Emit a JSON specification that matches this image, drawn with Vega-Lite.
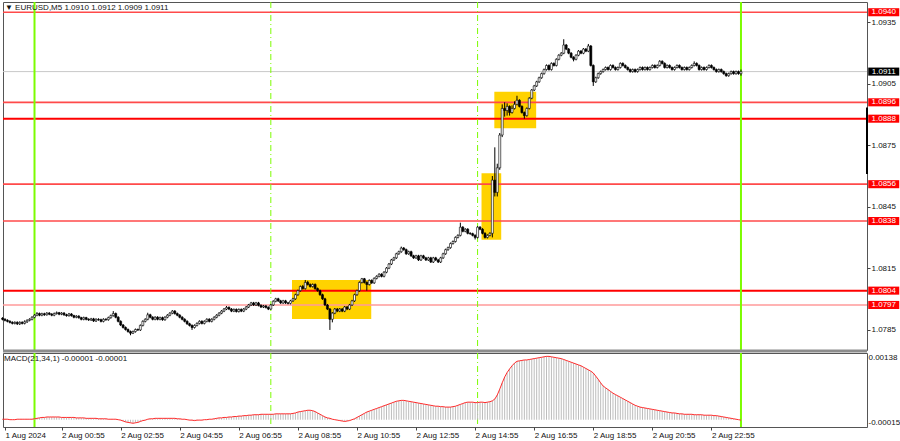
{
"$schema":"https://vega.github.io/schema/vega-lite/v6.json",
"background":"#ffffff",
"padding":{"left":0,"top":0,"right":0,"bottom":0},
"config":{"font":"Liberation Sans","view":{"stroke":"#555555","strokeWidth":1},"scale":{"continuousPadding":0}},
"spacing":3,
"bounds":"flush",
"resolve":{"scale":{"x":"independent"}},
"datasets":{
"levels":[{"p":1.094,"k":"normal"},{"p":1.0896,"k":"normal"},{"p":1.0888,"k":"strong"},{"p":1.0856,"k":"normal"},{"p":1.0838,"k":"normal"},{"p":1.0804,"k":"strong"},{"p":1.0797,"k":"light"},{"p":1.0911,"k":"cur"}],
"vlines":[{"t":0,"k":"day"},{"t":480,"k":"sess"},{"t":900,"k":"sess"},{"t":1435,"k":"day"}],
"boxes":[{"t1":523,"t2":684,"p1":1.07902,"p2":1.08092},{"t1":908,"t2":948,"p1":1.08288,"p2":1.08613},{"t1":934,"t2":1019,"p1":1.08833,"p2":1.09011}],
"bars":[
{"t":-65,"o":1.07905,"h":1.0791,"l":1.07895,"c":1.079,"m":0.00001},
{"t":-60,"o":1.079,"h":1.07905,"l":1.0789,"c":1.07895,"m":0.00001},
{"t":-55,"o":1.07895,"h":1.079,"l":1.07885,"c":1.0789,"m":0.00001},
{"t":-50,"o":1.0789,"h":1.07895,"l":1.0788,"c":1.07885,"m":0},
{"t":-45,"o":1.07885,"h":1.0789,"l":1.07875,"c":1.0788,"m":0},
{"t":-40,"o":1.0788,"h":1.0789,"l":1.07875,"c":1.07885,"m":0},
{"t":-35,"o":1.07885,"h":1.0789,"l":1.07872,"c":1.07878,"m":0.00001},
{"t":-30,"o":1.07878,"h":1.0789,"l":1.07872,"c":1.07885,"m":0.00001},
{"t":-25,"o":1.07885,"h":1.0789,"l":1.07875,"c":1.0788,"m":0.00001},
{"t":-20,"o":1.0788,"h":1.07895,"l":1.07875,"c":1.07888,"m":0.00001},
{"t":-15,"o":1.07888,"h":1.079,"l":1.07882,"c":1.07895,"m":0.00001},
{"t":-10,"o":1.07895,"h":1.07905,"l":1.0789,"c":1.079,"m":0.00001},
{"t":-5,"o":1.079,"h":1.07915,"l":1.07895,"c":1.0791,"m":0.00001},
{"t":0,"o":1.0791,"h":1.07925,"l":1.07905,"c":1.0792,"m":0.00002},
{"t":5,"o":1.0792,"h":1.07935,"l":1.07915,"c":1.07928,"m":0.00003},
{"t":10,"o":1.07928,"h":1.07933,"l":1.07915,"c":1.0792,"m":0.00004},
{"t":15,"o":1.0792,"h":1.07932,"l":1.07915,"c":1.07927,"m":0.00005},
{"t":20,"o":1.07927,"h":1.07932,"l":1.07917,"c":1.07922,"m":0.00005},
{"t":25,"o":1.07922,"h":1.07935,"l":1.07918,"c":1.0793,"m":0.00006},
{"t":30,"o":1.0793,"h":1.07935,"l":1.0792,"c":1.07925,"m":0.00006},
{"t":35,"o":1.07925,"h":1.0793,"l":1.07915,"c":1.0792,"m":0.00006},
{"t":40,"o":1.0792,"h":1.07933,"l":1.07915,"c":1.07928,"m":0.00006},
{"t":45,"o":1.07928,"h":1.07938,"l":1.07923,"c":1.07932,"m":0.00006},
{"t":50,"o":1.07932,"h":1.07936,"l":1.0792,"c":1.07925,"m":0.00006},
{"t":55,"o":1.07925,"h":1.07935,"l":1.0792,"c":1.0793,"m":0.00005},
{"t":60,"o":1.0793,"h":1.07935,"l":1.07917,"c":1.07922,"m":0.00005},
{"t":65,"o":1.07922,"h":1.07927,"l":1.07913,"c":1.07918,"m":0.00005},
{"t":70,"o":1.07918,"h":1.07931,"l":1.07913,"c":1.07926,"m":0.00005},
{"t":75,"o":1.07926,"h":1.0793,"l":1.07913,"c":1.07918,"m":0.00005},
{"t":80,"o":1.07918,"h":1.07922,"l":1.07905,"c":1.0791,"m":0.00005},
{"t":85,"o":1.0791,"h":1.0792,"l":1.07905,"c":1.07915,"m":0.00004},
{"t":90,"o":1.07915,"h":1.0792,"l":1.07903,"c":1.07908,"m":0.00004},
{"t":95,"o":1.07908,"h":1.07912,"l":1.07895,"c":1.079,"m":0.00004},
{"t":100,"o":1.079,"h":1.07913,"l":1.07895,"c":1.07908,"m":0.00004},
{"t":105,"o":1.07908,"h":1.07912,"l":1.07895,"c":1.079,"m":0.00003},
{"t":110,"o":1.079,"h":1.07905,"l":1.07892,"c":1.07897,"m":0.00003},
{"t":115,"o":1.07897,"h":1.07907,"l":1.07892,"c":1.07902,"m":0.00003},
{"t":120,"o":1.07902,"h":1.07907,"l":1.07887,"c":1.07892,"m":0.00003},
{"t":125,"o":1.07892,"h":1.07905,"l":1.07887,"c":1.079,"m":0.00003},
{"t":130,"o":1.079,"h":1.07905,"l":1.07893,"c":1.07898,"m":0.00002},
{"t":135,"o":1.07898,"h":1.07903,"l":1.07885,"c":1.0789,"m":0.00002},
{"t":140,"o":1.0789,"h":1.07905,"l":1.07885,"c":1.079,"m":0.00002},
{"t":145,"o":1.079,"h":1.07905,"l":1.07893,"c":1.07898,"m":0.00002},
{"t":150,"o":1.07898,"h":1.07913,"l":1.07893,"c":1.07908,"m":0.00001},
{"t":155,"o":1.07908,"h":1.07923,"l":1.07903,"c":1.07918,"m":0.00001},
{"t":160,"o":1.07918,"h":1.0794,"l":1.07913,"c":1.07928,"m":0.00001},
{"t":165,"o":1.07928,"h":1.07933,"l":1.07905,"c":1.0791,"m":0.00001},
{"t":170,"o":1.0791,"h":1.07915,"l":1.07885,"c":1.0789,"m":0},
{"t":175,"o":1.0789,"h":1.07895,"l":1.07867,"c":1.07872,"m":-0.00001},
{"t":180,"o":1.07872,"h":1.07877,"l":1.07855,"c":1.0786,"m":-0.00003},
{"t":185,"o":1.0786,"h":1.07865,"l":1.07845,"c":1.0785,"m":-0.00005},
{"t":190,"o":1.0785,"h":1.07855,"l":1.07835,"c":1.0784,"m":-0.00006},
{"t":195,"o":1.0784,"h":1.07845,"l":1.07822,"c":1.07832,"m":-0.00007},
{"t":200,"o":1.07832,"h":1.07845,"l":1.07828,"c":1.0784,"m":-0.00008},
{"t":205,"o":1.0784,"h":1.07855,"l":1.07835,"c":1.0785,"m":-0.00007},
{"t":210,"o":1.0785,"h":1.07855,"l":1.07843,"c":1.07848,"m":-0.00006},
{"t":215,"o":1.07848,"h":1.07875,"l":1.07843,"c":1.0787,"m":-0.00004},
{"t":220,"o":1.0787,"h":1.07895,"l":1.07865,"c":1.0789,"m":-0.00002},
{"t":225,"o":1.0789,"h":1.07905,"l":1.07885,"c":1.079,"m":-0.00001},
{"t":230,"o":1.079,"h":1.07932,"l":1.07895,"c":1.07922,"m":0.00001},
{"t":235,"o":1.07922,"h":1.07927,"l":1.07905,"c":1.0791,"m":0.00002},
{"t":240,"o":1.0791,"h":1.07915,"l":1.07895,"c":1.079,"m":0.00002},
{"t":245,"o":1.079,"h":1.07915,"l":1.07895,"c":1.0791,"m":0.00003},
{"t":250,"o":1.0791,"h":1.07915,"l":1.07895,"c":1.079,"m":0.00003},
{"t":255,"o":1.079,"h":1.07913,"l":1.07895,"c":1.07908,"m":0.00003},
{"t":260,"o":1.07908,"h":1.07913,"l":1.07893,"c":1.07898,"m":0.00003},
{"t":265,"o":1.07898,"h":1.07915,"l":1.07893,"c":1.0791,"m":0.00003},
{"t":270,"o":1.0791,"h":1.07925,"l":1.07905,"c":1.0792,"m":0.00003},
{"t":275,"o":1.0792,"h":1.07935,"l":1.07915,"c":1.0793,"m":0.00003},
{"t":280,"o":1.0793,"h":1.07945,"l":1.07925,"c":1.0794,"m":0.00003},
{"t":285,"o":1.0794,"h":1.07945,"l":1.07923,"c":1.07928,"m":0.00003},
{"t":290,"o":1.07928,"h":1.07933,"l":1.07915,"c":1.0792,"m":0.00002},
{"t":295,"o":1.0792,"h":1.07925,"l":1.07905,"c":1.0791,"m":0.00002},
{"t":300,"o":1.0791,"h":1.07915,"l":1.07895,"c":1.079,"m":0.00001},
{"t":305,"o":1.079,"h":1.07905,"l":1.07885,"c":1.0789,"m":0.00001},
{"t":310,"o":1.0789,"h":1.07895,"l":1.07873,"c":1.07878,"m":0},
{"t":315,"o":1.07878,"h":1.07883,"l":1.07865,"c":1.0787,"m":-0.00001},
{"t":320,"o":1.0787,"h":1.07875,"l":1.07848,"c":1.0786,"m":-0.00001},
{"t":325,"o":1.0786,"h":1.07875,"l":1.07855,"c":1.0787,"m":-0.00002},
{"t":330,"o":1.0787,"h":1.07885,"l":1.07865,"c":1.0788,"m":-0.00001},
{"t":335,"o":1.0788,"h":1.07895,"l":1.07875,"c":1.0789,"m":-0.00001},
{"t":340,"o":1.0789,"h":1.07895,"l":1.07875,"c":1.0788,"m":-0.00001},
{"t":345,"o":1.0788,"h":1.07895,"l":1.07875,"c":1.0789,"m":0},
{"t":350,"o":1.0789,"h":1.07905,"l":1.07885,"c":1.079,"m":0},
{"t":355,"o":1.079,"h":1.07905,"l":1.07885,"c":1.0789,"m":0.00001},
{"t":360,"o":1.0789,"h":1.07905,"l":1.07885,"c":1.079,"m":0.00001},
{"t":365,"o":1.079,"h":1.07915,"l":1.07895,"c":1.0791,"m":0.00002},
{"t":370,"o":1.0791,"h":1.07925,"l":1.07905,"c":1.0792,"m":0.00003},
{"t":375,"o":1.0792,"h":1.07935,"l":1.07915,"c":1.0793,"m":0.00004},
{"t":380,"o":1.0793,"h":1.07945,"l":1.07925,"c":1.0794,"m":0.00004},
{"t":385,"o":1.0794,"h":1.07955,"l":1.07935,"c":1.0795,"m":0.00005},
{"t":390,"o":1.0795,"h":1.07965,"l":1.07945,"c":1.07958,"m":0.00005},
{"t":395,"o":1.07958,"h":1.07963,"l":1.07945,"c":1.0795,"m":0.00006},
{"t":400,"o":1.0795,"h":1.07955,"l":1.07935,"c":1.0794,"m":0.00006},
{"t":405,"o":1.0794,"h":1.07953,"l":1.07935,"c":1.07948,"m":0.00007},
{"t":410,"o":1.07948,"h":1.07953,"l":1.07933,"c":1.07938,"m":0.00007},
{"t":415,"o":1.07938,"h":1.07953,"l":1.07933,"c":1.07948,"m":0.00008},
{"t":420,"o":1.07948,"h":1.07953,"l":1.07935,"c":1.0794,"m":0.00008},
{"t":425,"o":1.0794,"h":1.07955,"l":1.07935,"c":1.0795,"m":0.00009},
{"t":430,"o":1.0795,"h":1.07965,"l":1.07945,"c":1.0796,"m":0.00009},
{"t":435,"o":1.0796,"h":1.07975,"l":1.07955,"c":1.0797,"m":0.0001},
{"t":440,"o":1.0797,"h":1.07985,"l":1.07965,"c":1.0798,"m":0.0001},
{"t":445,"o":1.0798,"h":1.07985,"l":1.07965,"c":1.0797,"m":0.00011},
{"t":450,"o":1.0797,"h":1.07985,"l":1.07965,"c":1.0798,"m":0.00011},
{"t":455,"o":1.0798,"h":1.07985,"l":1.07963,"c":1.07968,"m":0.00011},
{"t":460,"o":1.07968,"h":1.07973,"l":1.07955,"c":1.0796,"m":0.00012},
{"t":465,"o":1.0796,"h":1.0797,"l":1.07955,"c":1.07965,"m":0.00012},
{"t":470,"o":1.07965,"h":1.0797,"l":1.07953,"c":1.07958,"m":0.00012},
{"t":475,"o":1.07958,"h":1.07963,"l":1.07945,"c":1.0795,"m":0.00012},
{"t":480,"o":1.0795,"h":1.07975,"l":1.07945,"c":1.0797,"m":0.00012},
{"t":485,"o":1.0797,"h":1.07993,"l":1.07965,"c":1.07988,"m":0.00012},
{"t":490,"o":1.07988,"h":1.08005,"l":1.07983,"c":1.08,"m":0.00013},
{"t":495,"o":1.08,"h":1.08005,"l":1.07985,"c":1.0799,"m":0.00013},
{"t":500,"o":1.0799,"h":1.07995,"l":1.07975,"c":1.0798,"m":0.00013},
{"t":505,"o":1.0798,"h":1.07995,"l":1.07975,"c":1.0799,"m":0.00013},
{"t":510,"o":1.0799,"h":1.07995,"l":1.07975,"c":1.0798,"m":0.00013},
{"t":515,"o":1.0798,"h":1.07985,"l":1.07973,"c":1.07978,"m":0.00013},
{"t":520,"o":1.07978,"h":1.07995,"l":1.07973,"c":1.0799,"m":0.00013},
{"t":525,"o":1.0799,"h":1.08005,"l":1.07985,"c":1.08,"m":0.00014},
{"t":530,"o":1.08,"h":1.08025,"l":1.07995,"c":1.0802,"m":0.00015},
{"t":535,"o":1.0802,"h":1.08045,"l":1.08015,"c":1.0804,"m":0.00017},
{"t":540,"o":1.0804,"h":1.08065,"l":1.08035,"c":1.0806,"m":0.00018},
{"t":545,"o":1.0806,"h":1.08068,"l":1.08045,"c":1.0805,"m":0.00019},
{"t":550,"o":1.0805,"h":1.08092,"l":1.08045,"c":1.0808,"m":0.0002},
{"t":555,"o":1.0808,"h":1.08088,"l":1.08065,"c":1.0807,"m":0.00021},
{"t":560,"o":1.0807,"h":1.08075,"l":1.08055,"c":1.0806,"m":0.00021},
{"t":565,"o":1.0806,"h":1.08075,"l":1.08055,"c":1.0807,"m":0.0002},
{"t":570,"o":1.0807,"h":1.08075,"l":1.08045,"c":1.0805,"m":0.00018},
{"t":575,"o":1.0805,"h":1.08055,"l":1.08035,"c":1.0804,"m":0.00015},
{"t":580,"o":1.0804,"h":1.08045,"l":1.08015,"c":1.0802,"m":0.00012},
{"t":585,"o":1.0802,"h":1.08025,"l":1.07995,"c":1.08,"m":0.00009},
{"t":590,"o":1.08,"h":1.08005,"l":1.07965,"c":1.0797,"m":0.00006},
{"t":595,"o":1.0797,"h":1.07975,"l":1.07945,"c":1.0795,"m":0.00004},
{"t":600,"o":1.0795,"h":1.07955,"l":1.07848,"c":1.079,"m":0.00003},
{"t":605,"o":1.079,"h":1.07935,"l":1.07885,"c":1.0793,"m":0.00001},
{"t":610,"o":1.0793,"h":1.07955,"l":1.07925,"c":1.0795,"m":0},
{"t":615,"o":1.0795,"h":1.07955,"l":1.07935,"c":1.0794,"m":-0.00001},
{"t":620,"o":1.0794,"h":1.07955,"l":1.07935,"c":1.0795,"m":-0.00002},
{"t":625,"o":1.0795,"h":1.07955,"l":1.07935,"c":1.0794,"m":-0.00003},
{"t":630,"o":1.0794,"h":1.07965,"l":1.07935,"c":1.0796,"m":-0.00004},
{"t":635,"o":1.0796,"h":1.07965,"l":1.07945,"c":1.0795,"m":-0.00003},
{"t":640,"o":1.0795,"h":1.07975,"l":1.07945,"c":1.0797,"m":-0.00002},
{"t":645,"o":1.0797,"h":1.07995,"l":1.07965,"c":1.0799,"m":0},
{"t":650,"o":1.0799,"h":1.08025,"l":1.07985,"c":1.0802,"m":0.00002},
{"t":655,"o":1.0802,"h":1.08045,"l":1.08015,"c":1.0804,"m":0.00005},
{"t":660,"o":1.0804,"h":1.08085,"l":1.08035,"c":1.0808,"m":0.00008},
{"t":665,"o":1.0808,"h":1.08102,"l":1.08075,"c":1.08098,"m":0.00011},
{"t":670,"o":1.08098,"h":1.08102,"l":1.08075,"c":1.0808,"m":0.00014},
{"t":675,"o":1.0808,"h":1.08085,"l":1.0804,"c":1.0807,"m":0.00017},
{"t":680,"o":1.0807,"h":1.08095,"l":1.08065,"c":1.0809,"m":0.00019},
{"t":685,"o":1.0809,"h":1.08095,"l":1.08073,"c":1.08078,"m":0.00021},
{"t":690,"o":1.08078,"h":1.08105,"l":1.08073,"c":1.081,"m":0.00023},
{"t":695,"o":1.081,"h":1.08115,"l":1.08095,"c":1.0811,"m":0.00025},
{"t":700,"o":1.0811,"h":1.08125,"l":1.08105,"c":1.0812,"m":0.00027},
{"t":705,"o":1.0812,"h":1.08125,"l":1.08105,"c":1.0811,"m":0.00029},
{"t":710,"o":1.0811,"h":1.08135,"l":1.08105,"c":1.0813,"m":0.00031},
{"t":715,"o":1.0813,"h":1.08155,"l":1.08125,"c":1.0815,"m":0.00033},
{"t":720,"o":1.0815,"h":1.08175,"l":1.08145,"c":1.0817,"m":0.00035},
{"t":725,"o":1.0817,"h":1.08195,"l":1.08165,"c":1.0819,"m":0.00037},
{"t":730,"o":1.0819,"h":1.08205,"l":1.08185,"c":1.082,"m":0.00039},
{"t":735,"o":1.082,"h":1.08225,"l":1.08195,"c":1.0822,"m":0.00041},
{"t":740,"o":1.0822,"h":1.08235,"l":1.08215,"c":1.0823,"m":0.00042},
{"t":745,"o":1.0823,"h":1.08255,"l":1.08225,"c":1.08248,"m":0.00043},
{"t":750,"o":1.08248,"h":1.08253,"l":1.08235,"c":1.0824,"m":0.00043},
{"t":755,"o":1.0824,"h":1.08245,"l":1.08215,"c":1.0822,"m":0.00042},
{"t":760,"o":1.0822,"h":1.08235,"l":1.08215,"c":1.0823,"m":0.00041},
{"t":765,"o":1.0823,"h":1.08235,"l":1.08205,"c":1.0821,"m":0.0004},
{"t":770,"o":1.0821,"h":1.08215,"l":1.08195,"c":1.082,"m":0.00039},
{"t":775,"o":1.082,"h":1.08215,"l":1.08195,"c":1.0821,"m":0.00038},
{"t":780,"o":1.0821,"h":1.08215,"l":1.08185,"c":1.0819,"m":0.00037},
{"t":785,"o":1.0819,"h":1.08215,"l":1.08185,"c":1.0821,"m":0.00036},
{"t":790,"o":1.0821,"h":1.08215,"l":1.08195,"c":1.082,"m":0.00035},
{"t":795,"o":1.082,"h":1.08205,"l":1.08185,"c":1.0819,"m":0.00034},
{"t":800,"o":1.0819,"h":1.08205,"l":1.08185,"c":1.082,"m":0.00033},
{"t":805,"o":1.082,"h":1.08205,"l":1.08175,"c":1.0818,"m":0.00032},
{"t":810,"o":1.0818,"h":1.08205,"l":1.08175,"c":1.082,"m":0.00031},
{"t":815,"o":1.082,"h":1.08205,"l":1.08185,"c":1.0819,"m":0.0003},
{"t":820,"o":1.0819,"h":1.08195,"l":1.08175,"c":1.0818,"m":0.0003},
{"t":825,"o":1.0818,"h":1.08205,"l":1.08175,"c":1.082,"m":0.00029},
{"t":830,"o":1.082,"h":1.08225,"l":1.08195,"c":1.0822,"m":0.00029},
{"t":835,"o":1.0822,"h":1.08245,"l":1.08215,"c":1.0824,"m":0.00028},
{"t":840,"o":1.0824,"h":1.08255,"l":1.08235,"c":1.0825,"m":0.00028},
{"t":845,"o":1.0825,"h":1.08275,"l":1.08245,"c":1.0827,"m":0.00028},
{"t":850,"o":1.0827,"h":1.08285,"l":1.08265,"c":1.0828,"m":0.00029},
{"t":855,"o":1.0828,"h":1.08305,"l":1.08275,"c":1.083,"m":0.0003},
{"t":860,"o":1.083,"h":1.08315,"l":1.08295,"c":1.0831,"m":0.00032},
{"t":865,"o":1.0831,"h":1.08372,"l":1.08305,"c":1.0835,"m":0.00034},
{"t":870,"o":1.0835,"h":1.08355,"l":1.08325,"c":1.0833,"m":0.00036},
{"t":875,"o":1.0833,"h":1.08345,"l":1.08325,"c":1.0834,"m":0.00038},
{"t":880,"o":1.0834,"h":1.08345,"l":1.08315,"c":1.0832,"m":0.00039},
{"t":885,"o":1.0832,"h":1.08325,"l":1.08313,"c":1.08318,"m":0.00039},
{"t":890,"o":1.08318,"h":1.08323,"l":1.08305,"c":1.0831,"m":0.00039},
{"t":895,"o":1.0831,"h":1.08315,"l":1.0829,"c":1.083,"m":0.00038},
{"t":900,"o":1.083,"h":1.08355,"l":1.08295,"c":1.0835,"m":0.00038},
{"t":905,"o":1.0835,"h":1.08355,"l":1.08335,"c":1.0834,"m":0.00039},
{"t":910,"o":1.0834,"h":1.08345,"l":1.08315,"c":1.0832,"m":0.00039},
{"t":915,"o":1.0832,"h":1.08325,"l":1.08295,"c":1.083,"m":0.00038},
{"t":920,"o":1.083,"h":1.08315,"l":1.08295,"c":1.0831,"m":0.00039},
{"t":925,"o":1.0831,"h":1.08325,"l":1.08305,"c":1.0832,"m":0.0004},
{"t":930,"o":1.0832,"h":1.086,"l":1.083,"c":1.0858,"m":0.00042},
{"t":935,"o":1.0858,"h":1.0874,"l":1.085,"c":1.0852,"m":0.00046},
{"t":940,"o":1.0852,"h":1.0866,"l":1.085,"c":1.0864,"m":0.00055},
{"t":945,"o":1.0864,"h":1.0881,"l":1.0863,"c":1.088,"m":0.00068},
{"t":950,"o":1.088,"h":1.0895,"l":1.0879,"c":1.0893,"m":0.00082},
{"t":955,"o":1.0893,"h":1.0896,"l":1.0889,"c":1.0892,"m":0.00095},
{"t":960,"o":1.0892,"h":1.08955,"l":1.08895,"c":1.0894,"m":0.00105},
{"t":965,"o":1.0894,"h":1.08945,"l":1.08895,"c":1.0891,"m":0.00113},
{"t":970,"o":1.0891,"h":1.08945,"l":1.08905,"c":1.0893,"m":0.0012},
{"t":975,"o":1.0893,"h":1.08965,"l":1.08925,"c":1.0895,"m":0.00126},
{"t":980,"o":1.0895,"h":1.08992,"l":1.08945,"c":1.0897,"m":0.0013},
{"t":985,"o":1.0897,"h":1.08975,"l":1.08935,"c":1.0894,"m":0.00131},
{"t":990,"o":1.0894,"h":1.08945,"l":1.08905,"c":1.0891,"m":0.00132},
{"t":995,"o":1.0891,"h":1.08915,"l":1.0888,"c":1.08895,"m":0.00133},
{"t":1000,"o":1.08895,"h":1.08935,"l":1.0889,"c":1.0893,"m":0.00133},
{"t":1005,"o":1.0893,"h":1.08985,"l":1.08925,"c":1.0898,"m":0.00134},
{"t":1010,"o":1.0898,"h":1.09025,"l":1.08975,"c":1.0902,"m":0.00135},
{"t":1015,"o":1.0902,"h":1.09045,"l":1.09015,"c":1.0904,"m":0.00136},
{"t":1020,"o":1.0904,"h":1.09065,"l":1.09035,"c":1.0906,"m":0.00137},
{"t":1025,"o":1.0906,"h":1.09085,"l":1.09055,"c":1.0908,"m":0.00138},
{"t":1030,"o":1.0908,"h":1.09105,"l":1.09075,"c":1.091,"m":0.00139},
{"t":1035,"o":1.091,"h":1.09125,"l":1.09095,"c":1.0912,"m":0.0014},
{"t":1040,"o":1.0912,"h":1.09145,"l":1.09115,"c":1.0914,"m":0.00141},
{"t":1045,"o":1.0914,"h":1.09145,"l":1.09115,"c":1.0912,"m":0.00141},
{"t":1050,"o":1.0912,"h":1.09155,"l":1.09115,"c":1.0915,"m":0.0014},
{"t":1055,"o":1.0915,"h":1.09155,"l":1.09135,"c":1.0914,"m":0.00139},
{"t":1060,"o":1.0914,"h":1.09175,"l":1.09135,"c":1.0917,"m":0.00138},
{"t":1065,"o":1.0917,"h":1.09195,"l":1.09165,"c":1.0919,"m":0.00137},
{"t":1070,"o":1.0919,"h":1.09205,"l":1.09185,"c":1.092,"m":0.00136},
{"t":1075,"o":1.092,"h":1.09268,"l":1.09195,"c":1.0924,"m":0.00134},
{"t":1080,"o":1.0924,"h":1.09245,"l":1.09215,"c":1.0922,"m":0.00132},
{"t":1085,"o":1.0922,"h":1.09225,"l":1.09195,"c":1.092,"m":0.0013},
{"t":1090,"o":1.092,"h":1.09205,"l":1.09175,"c":1.0918,"m":0.00128},
{"t":1095,"o":1.0918,"h":1.09185,"l":1.0916,"c":1.0917,"m":0.00126},
{"t":1100,"o":1.0917,"h":1.09195,"l":1.09165,"c":1.0919,"m":0.00124},
{"t":1105,"o":1.0919,"h":1.09215,"l":1.09185,"c":1.0921,"m":0.00122},
{"t":1110,"o":1.0921,"h":1.09215,"l":1.09195,"c":1.092,"m":0.0012},
{"t":1115,"o":1.092,"h":1.09225,"l":1.09195,"c":1.0922,"m":0.00117},
{"t":1120,"o":1.0922,"h":1.09225,"l":1.09205,"c":1.0921,"m":0.00114},
{"t":1125,"o":1.0921,"h":1.09245,"l":1.09205,"c":1.09235,"m":0.00111},
{"t":1130,"o":1.09235,"h":1.0924,"l":1.09135,"c":1.0914,"m":0.00108},
{"t":1135,"o":1.0914,"h":1.09145,"l":1.0904,"c":1.0906,"m":0.00104},
{"t":1140,"o":1.0906,"h":1.09085,"l":1.09055,"c":1.0908,"m":0.00097},
{"t":1145,"o":1.0908,"h":1.09105,"l":1.09075,"c":1.091,"m":0.0009},
{"t":1150,"o":1.091,"h":1.09115,"l":1.09095,"c":1.0911,"m":0.00082},
{"t":1155,"o":1.0911,"h":1.09125,"l":1.09105,"c":1.0912,"m":0.00075},
{"t":1160,"o":1.0912,"h":1.09135,"l":1.09115,"c":1.0913,"m":0.00071},
{"t":1165,"o":1.0913,"h":1.09135,"l":1.09115,"c":1.0912,"m":0.00067},
{"t":1170,"o":1.0912,"h":1.09145,"l":1.09115,"c":1.0914,"m":0.00063},
{"t":1175,"o":1.0914,"h":1.09145,"l":1.09125,"c":1.0913,"m":0.00059},
{"t":1180,"o":1.0913,"h":1.09135,"l":1.09115,"c":1.0912,"m":0.00056},
{"t":1185,"o":1.0912,"h":1.09135,"l":1.09115,"c":1.0913,"m":0.00053},
{"t":1190,"o":1.0913,"h":1.09155,"l":1.09125,"c":1.0915,"m":0.0005},
{"t":1195,"o":1.0915,"h":1.09155,"l":1.09135,"c":1.0914,"m":0.00047},
{"t":1200,"o":1.0914,"h":1.09145,"l":1.09125,"c":1.0913,"m":0.00044},
{"t":1205,"o":1.0913,"h":1.09135,"l":1.09115,"c":1.0912,"m":0.00041},
{"t":1210,"o":1.0912,"h":1.09125,"l":1.09105,"c":1.0911,"m":0.00038},
{"t":1215,"o":1.0911,"h":1.09125,"l":1.09105,"c":1.0912,"m":0.00035},
{"t":1220,"o":1.0912,"h":1.09125,"l":1.09105,"c":1.0911,"m":0.00032},
{"t":1225,"o":1.0911,"h":1.09125,"l":1.09105,"c":1.0912,"m":0.0003},
{"t":1230,"o":1.0912,"h":1.09135,"l":1.09115,"c":1.0913,"m":0.00028},
{"t":1235,"o":1.0913,"h":1.09135,"l":1.09115,"c":1.0912,"m":0.00027},
{"t":1240,"o":1.0912,"h":1.09135,"l":1.09115,"c":1.0913,"m":0.00026},
{"t":1245,"o":1.0913,"h":1.09135,"l":1.09115,"c":1.0912,"m":0.00025},
{"t":1250,"o":1.0912,"h":1.09135,"l":1.09115,"c":1.0913,"m":0.00024},
{"t":1255,"o":1.0913,"h":1.09145,"l":1.09125,"c":1.0914,"m":0.00023},
{"t":1260,"o":1.0914,"h":1.09145,"l":1.09125,"c":1.0913,"m":0.00022},
{"t":1265,"o":1.0913,"h":1.09145,"l":1.09125,"c":1.0914,"m":0.00021},
{"t":1270,"o":1.0914,"h":1.09166,"l":1.09135,"c":1.0916,"m":0.0002},
{"t":1275,"o":1.0916,"h":1.09165,"l":1.09145,"c":1.0915,"m":0.00019},
{"t":1280,"o":1.0915,"h":1.09155,"l":1.09125,"c":1.0913,"m":0.00018},
{"t":1285,"o":1.0913,"h":1.09145,"l":1.09125,"c":1.0914,"m":0.00017},
{"t":1290,"o":1.0914,"h":1.09145,"l":1.09125,"c":1.0913,"m":0.00016},
{"t":1295,"o":1.0913,"h":1.09135,"l":1.09115,"c":1.0912,"m":0.00015},
{"t":1300,"o":1.0912,"h":1.09135,"l":1.09115,"c":1.0913,"m":0.00015},
{"t":1305,"o":1.0913,"h":1.09145,"l":1.09125,"c":1.0914,"m":0.00014},
{"t":1310,"o":1.0914,"h":1.09145,"l":1.09125,"c":1.0913,"m":0.00013},
{"t":1315,"o":1.0913,"h":1.09135,"l":1.09115,"c":1.0912,"m":0.00013},
{"t":1320,"o":1.0912,"h":1.09135,"l":1.09115,"c":1.0913,"m":0.00012},
{"t":1325,"o":1.0913,"h":1.09135,"l":1.09115,"c":1.0912,"m":0.00012},
{"t":1330,"o":1.0912,"h":1.09135,"l":1.09115,"c":1.0913,"m":0.00012},
{"t":1335,"o":1.0913,"h":1.09145,"l":1.09125,"c":1.0914,"m":0.00012},
{"t":1340,"o":1.0914,"h":1.0916,"l":1.09135,"c":1.0915,"m":0.00011},
{"t":1345,"o":1.0915,"h":1.09155,"l":1.09135,"c":1.0914,"m":0.00011},
{"t":1350,"o":1.0914,"h":1.09145,"l":1.09115,"c":1.0912,"m":0.00011},
{"t":1355,"o":1.0912,"h":1.09135,"l":1.09115,"c":1.0913,"m":0.00011},
{"t":1360,"o":1.0913,"h":1.09135,"l":1.09115,"c":1.0912,"m":0.0001},
{"t":1365,"o":1.0912,"h":1.09135,"l":1.09115,"c":1.0913,"m":0.0001},
{"t":1370,"o":1.0913,"h":1.09145,"l":1.09125,"c":1.0914,"m":0.0001},
{"t":1375,"o":1.0914,"h":1.09145,"l":1.09125,"c":1.0913,"m":0.0001},
{"t":1380,"o":1.0913,"h":1.09135,"l":1.09115,"c":1.0912,"m":0.00009},
{"t":1385,"o":1.0912,"h":1.09125,"l":1.09105,"c":1.0911,"m":0.00009},
{"t":1390,"o":1.0911,"h":1.09125,"l":1.09105,"c":1.0912,"m":0.00008},
{"t":1395,"o":1.0912,"h":1.09125,"l":1.09105,"c":1.0911,"m":0.00007},
{"t":1400,"o":1.0911,"h":1.09115,"l":1.09095,"c":1.091,"m":0.00006},
{"t":1405,"o":1.091,"h":1.09105,"l":1.09085,"c":1.0909,"m":0.00005},
{"t":1410,"o":1.0909,"h":1.09105,"l":1.09085,"c":1.091,"m":0.00004},
{"t":1415,"o":1.091,"h":1.09115,"l":1.09095,"c":1.0911,"m":0.00003},
{"t":1420,"o":1.0911,"h":1.09115,"l":1.09095,"c":1.091,"m":0.00002},
{"t":1425,"o":1.091,"h":1.09115,"l":1.09095,"c":1.0911,"m":0.00001},
{"t":1430,"o":1.0911,"h":1.09115,"l":1.09095,"c":1.091,"m":0},
{"t":1435,"o":1.091,"h":1.0912,"l":1.0909,"c":1.0911,"m":-0.00001}
]},
"vconcat":[
{"width":864,"height":348,
"resolve":{"scale":{"strokeWidth":"independent","fill":"independent","color":"independent"}},
"layer":[
{"data":{"name":"boxes"},"mark":{"type":"rect","color":"#ffd200"},
"encoding":{
"x":{"field":"t1","type":"quantitative","scale":{"domain":[-64,1691],"nice":false,"zero":false,"padding":0},"axis":null},
"x2":{"field":"t2"},
"y":{"field":"p1","type":"quantitative","scale":{"domain":[1.0775,1.0945],"nice":false,"zero":false,"padding":0},
"axis":{"orient":"right","values":[1.0785,1.08,1.0815,1.083,1.0845,1.086,1.0875,1.089,1.0905,1.092,1.0935],"format":".4f","title":null,"tickSize":3,"tickColor":"#444444","labelPadding":1,"domain":false,"grid":false,"labelFont":"Liberation Sans","labelFontSize":8,"labelColor":"#111111","labelOverlap":false}},
"y2":{"field":"p2"}}},
{"data":{"name":"levels"},"mark":{"type":"rule"},
"encoding":{"y":{"field":"p","type":"quantitative","title":null},
"color":{"field":"k","type":"nominal","scale":{"domain":["strong","normal","light","cur"],"range":["#ff0000","#ff4a4a","#ff9a9a","#c8c8c8"]},"legend":null},
"strokeWidth":{"field":"k","type":"nominal","scale":{"domain":["strong","normal","light","cur"],"range":[2,1,2,1]},"legend":null}}},
{"data":{"name":"vlines"},"mark":{"type":"rule","color":"#7cfc00"},
"encoding":{"x":{"field":"t","type":"quantitative","axis":null},
"size":{"field":"k","type":"nominal","scale":{"domain":["day","sess"],"range":[2,1]},"legend":null},
"strokeDash":{"field":"k","type":"nominal","scale":{"domain":["day","sess"],"range":[[1,0],[6,3,1,3]]},"legend":null}}},
{"data":{"name":"bars"},"mark":{"type":"rule","color":"#000000","strokeWidth":1},
"encoding":{"x":{"field":"t","type":"quantitative","axis":null},"y":{"field":"l","type":"quantitative","title":null},"y2":{"field":"h"}}},
{"data":{"name":"bars"},"mark":{"type":"bar","width":2,"stroke":"#000000","strokeWidth":0.6},
"encoding":{"x":{"field":"t","type":"quantitative","axis":null},"y":{"field":"o","type":"quantitative","title":null},"y2":{"field":"c"},
"fill":{"condition":{"test":"datum.c >= datum.o","value":"#ffffff"},"value":"#000000"}}},
{"data":{"values":[{}]},"mark":{"type":"rule","color":"#8c8c8c","strokeWidth":3},
"encoding":{"y":{"datum":1.07745,"type":"quantitative","title":null}}},
{"data":{"name":"levels"},"mark":{"type":"point","shape":"M-1,-0.26H1V0.26H-1Z","size":961,"filled":true,"opacity":1,"strokeWidth":0},
"encoding":{"x":{"datum":1725,"type":"quantitative","axis":null},"y":{"field":"p","type":"quantitative","title":null},
"fill":{"field":"k","type":"nominal","scale":{"domain":["strong","normal","light","cur"],"range":["#ff0000","#ff0000","#ff0000","#000000"]},"legend":null}}},
{"data":{"name":"levels"},"mark":{"type":"text","color":"#ffffff","font":"Liberation Sans","fontSize":8,"align":"center","baseline":"middle"},
"encoding":{"x":{"datum":1725,"type":"quantitative","axis":null},"y":{"field":"p","type":"quantitative","title":null},"text":{"field":"p","type":"quantitative","format":".4f"}}},
{"data":{"values":[{"s":"▼ EURUSD,M5  1.0910 1.0912 1.0909 1.0911"}]},"mark":{"type":"text","color":"#111111","font":"Liberation Sans","fontSize":8,"align":"left","baseline":"middle"},
"encoding":{"x":{"datum":-60,"type":"quantitative","axis":null},"y":{"datum":1.09421,"type":"quantitative","title":null},"text":{"field":"s"}}},
{"data":{"values":[{}]},"mark":{"type":"rule","color":"#000000","strokeWidth":2},
"encoding":{"x":{"datum":1691,"type":"quantitative","axis":null},"y":{"datum":1.08935,"type":"quantitative","title":null},"y2":{"datum":1.0861}}}
]},
{"width":864,"height":74,
"layer":[
{"data":{"name":"vlines"},"mark":{"type":"rule","color":"#7cfc00"},
"encoding":{"x":{"field":"t","type":"quantitative","title":null},
"size":{"field":"k","type":"nominal","scale":{"domain":["day","sess"],"range":[2,1]},"legend":null},
"strokeDash":{"field":"k","type":"nominal","scale":{"domain":["day","sess"],"range":[[1,0],[6,3,1,3]]},"legend":null}}},
{"data":{"name":"bars"},"mark":{"type":"bar","width":1,"color":"#bdbdbd"},
"encoding":{
"x":{"field":"t","type":"quantitative","scale":{"domain":[-64,1691],"nice":false,"zero":false,"padding":0},
"axis":{"orient":"bottom","values":[-60,55,175,295,415,535,655,775,895,1015,1135,1255,1375],"labelExpr":"datum.value < 0 ? '1 Aug 2024' : '2 Aug ' + (datum.value < 600 ? '0' : '') + floor(datum.value / 60) + ':55'","labelAlign":"left","labelFlush":false,"labelOverlap":false,"labelBound":false,"tickSize":3,"tickColor":"#444444","labelPadding":1,"title":null,"domain":false,"grid":false,"labelFont":"Liberation Sans","labelFontSize":8,"labelColor":"#111111"}},
"y":{"field":"m","type":"quantitative","scale":{"domain":[-0.000163,0.001485],"nice":false,"zero":false,"padding":0},
"axis":{"orient":"right","values":[0.00138,0,-0.00015],"labelExpr":"datum.value == 0 ? '0.00' : (datum.value < 0 ? '-0.00015' : '0.00138')","labelBaseline":{"condition":{"test":"datum.value < 0","value":"bottom"},"value":"middle"},"title":null,"tickSize":0,"labelPadding":1,"domain":false,"grid":false,"labelOverlap":false,"labelBound":false,"labelFont":"Liberation Sans","labelFontSize":8,"labelColor":"#111111"}},
"y2":{"datum":0}}},
{"data":{"name":"bars"},"mark":{"type":"line","color":"#ff2a2a","strokeWidth":1},
"encoding":{"x":{"field":"t","type":"quantitative","title":null},"y":{"field":"m","type":"quantitative","title":null}}},
{"data":{"values":[{"s":"MACD(21,34,1) -0.00001 -0.00001"}]},"mark":{"type":"text","color":"#111111","font":"Liberation Sans","fontSize":8,"align":"left","baseline":"middle"},
"encoding":{"x":{"datum":-62,"type":"quantitative","title":null},"y":{"datum":0.00136,"type":"quantitative","title":null},"text":{"field":"s"}}}
]}
]
}
